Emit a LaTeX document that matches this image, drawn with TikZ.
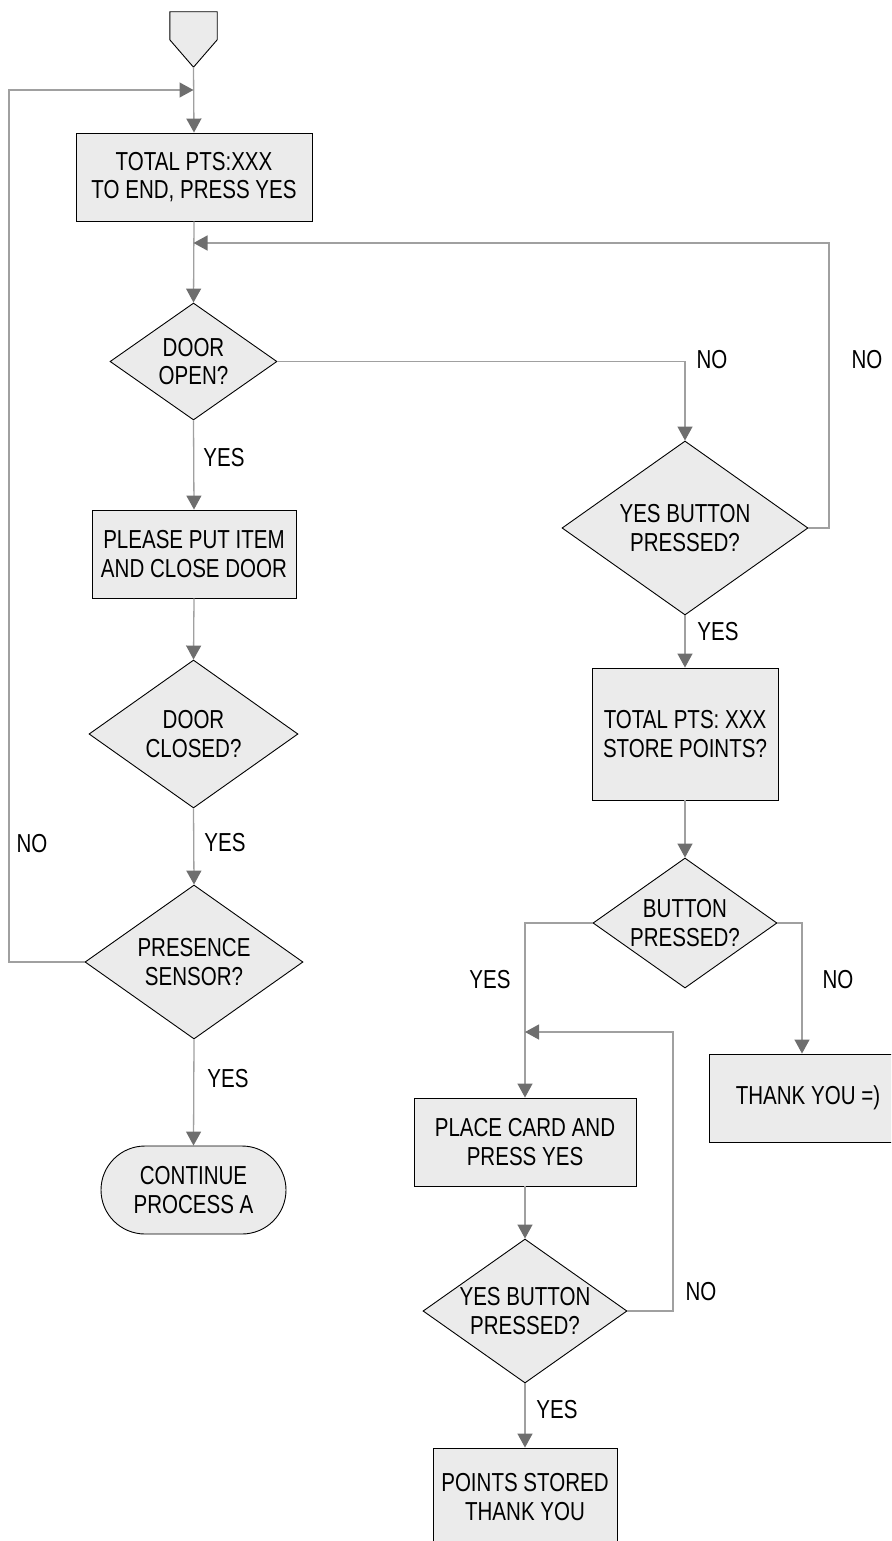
\documentclass[tikz,border=0pt]{standalone}
\usepackage{fontspec}
\setmainfont{Liberation Sans}[FakeStretch=0.79]
\usetikzlibrary{shapes.geometric,arrows.meta}

\definecolor{boxfill}{RGB}{235,235,235}
\definecolor{linegray}{RGB}{160,160,160}
\definecolor{tipgray}{RGB}{110,110,110}

\tikzset{
  stepbox/.style={draw=black, line width=0.9pt, fill=boxfill, rectangle,
    inner sep=0pt, align=center},
  decision/.style={draw=black, line width=0.9pt, fill=boxfill, diamond,
    inner sep=0pt, aspect=1},
  terminal/.style={draw=black, line width=0.9pt, fill=boxfill, rectangle,
    rounded corners=44pt, inner sep=0pt, align=center},
  conn/.style={draw=linegray, line width=1.3pt,
    -{Triangle[length=14pt,width=15pt,color=tipgray]}},
  tag/.style={inner sep=0pt},
}

\begin{document}
\begin{tikzpicture}[x=1pt,y=-1pt,font=\fontsize{26}{28.5}\selectfont]
\useasboundingbox (0,0) rectangle (891,1541);
\begin{scope}
\clip (0,0) rectangle (891,1541);

% off-page entry marker
\node[inner sep=0pt, minimum width=47pt, minimum height=55pt] (start) at (193.5,39.5) {};
\draw[line width=0.9pt, fill=boxfill]
  (start.north west) -- (start.north east) -- ([yshift=-28pt]start.north east)
  -- (start.south) -- ([yshift=-28pt]start.north west) -- cycle;

% junction points of the return loops
\coordinate (lft) at (9,90);
\coordinate (j1) at (193.5,90);
\coordinate (rt) at (829,243);
\coordinate (j2) at (193.5,243);
\coordinate (rt2) at (673,1032);
\coordinate (j3) at (525,1032);

% left column
\node[stepbox, minimum width=236pt, minimum height=88pt] (box1) at (194,177)
  {TOTAL PTS:XXX\\TO END, PRESS YES};
\node[decision, minimum width=167pt, minimum height=117pt,
  label={[align=center]center:DOOR\\OPEN?}] (dopen) at (193.5,361.5) {};
\node[stepbox, minimum width=204pt, minimum height=88pt] (put) at (194,554)
  {PLEASE PUT ITEM\\AND CLOSE DOOR};
\node[decision, minimum width=209pt, minimum height=148pt,
  label={[align=center]center:DOOR\\CLOSED?}] (dclosed) at (193.5,734) {};
\node[decision, minimum width=218pt, minimum height=154pt,
  label={[align=center]center:PRESENCE\\SENSOR?}] (presence) at (194,962) {};
\node[terminal, minimum width=185pt, minimum height=88pt] (cont) at (193.5,1190)
  {CONTINUE\\PROCESS A};

% right column
\node[decision, minimum width=246pt, minimum height=174pt,
  label={[align=center]center:YES BUTTON\\PRESSED?}] (yb1) at (685,528) {};
\node[stepbox, minimum width=186pt, minimum height=132pt] (tot2) at (685,734)
  {TOTAL PTS: XXX\\STORE POINTS?};
\node[decision, minimum width=184pt, minimum height=130pt,
  label={[align=center]center:BUTTON\\PRESSED?}] (bp) at (685,923) {};
\node[stepbox, minimum width=186pt, minimum height=88pt,
  label={center:\hspace*{12pt}THANK YOU =)}] (thanks) at (802,1098) {};
\node[stepbox, minimum width=222pt, minimum height=88pt] (place) at (525,1142)
  {PLACE CARD AND\\PRESS YES};
\node[decision, minimum width=204pt, minimum height=144pt,
  label={[align=center]center:YES BUTTON\\PRESSED?}] (yb2) at (525,1311) {};
\node[stepbox, minimum width=184pt, minimum height=98pt] (stored) at (525,1497)
  {POINTS STORED\\THANK YOU};

% main flow
\draw[conn] (start.south) -- (box1.north);
\draw[conn] (box1.south) -- (dopen.north);
\draw[conn] (dopen.south) -- (put.north);
\draw[conn] (put.south) -- (dclosed.north);
\draw[conn] (dclosed.south) -- (presence.north);
\draw[conn] (presence.south) -- (cont.north);
\draw[conn] (presence.west) -| (lft) -- (j1);

\draw[conn] (dopen.east) -| (yb1.north);
\draw[conn] (yb1.east) -| (rt) -- (j2);
\draw[conn] (yb1.south) -- (tot2.north);
\draw[conn] (tot2.south) -- (bp.north);
\draw[conn] (bp.west) -| (place.north);
\draw[conn] (bp.east) -| (thanks.north);
\draw[conn] (place.south) -- (yb2.north);
\draw[conn] (yb2.east) -| (rt2) -- (j3);
\draw[conn] (yb2.south) -- (stored.north);

% branch tags
\node[tag] (t1) at (224,458) {YES};
\node[tag] (t2) at (225,843) {YES};
\node[tag] (t3) at (32,844) {NO};
\node[tag] (t4) at (228,1079) {YES};
\node[tag] (t5) at (712,360) {NO};
\node[tag] (t6) at (867,360) {NO};
\node[tag] (t7) at (718,632) {YES};
\node[tag] (t8) at (490,980) {YES};
\node[tag] (t9) at (838,980) {NO};
\node[tag] (t10) at (701,1292) {NO};
\node[tag] (t11) at (557,1410) {YES};
\end{scope}
\end{tikzpicture}
\end{document}
